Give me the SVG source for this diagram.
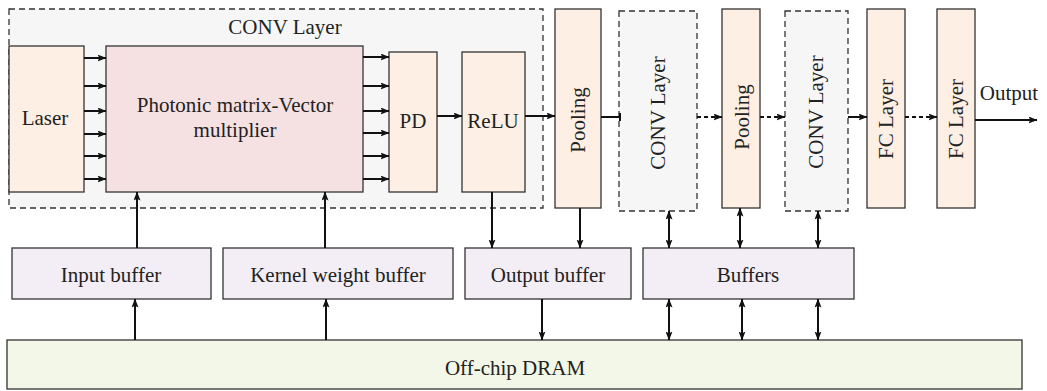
<svg xmlns="http://www.w3.org/2000/svg" width="1047" height="391" viewBox="0 0 1047 391">
<defs>
<marker id="ah" markerUnits="userSpaceOnUse" markerWidth="9" markerHeight="7" refX="8.5" refY="3.5" orient="auto-start-reverse" viewBox="0 0 9 7">
<path d="M0,0 L9,3.5 L0,7 L1.8,3.5 Z" fill="#111"/>
</marker>
</defs>
<style>
text{font-family:"Liberation Serif","Times New Roman",serif;font-size:21px;fill:#222;text-anchor:middle}
.box{stroke:#333;stroke-width:1.3}
.peach{fill:#fdefe4}
.pink{fill:#f6e1e2}
.lav{fill:#f3eef5}
.dram{fill:#f3f7e7}
.dash{fill:#f6f6f6;stroke:#333;stroke-width:1.3;stroke-dasharray:6,4}
.ar{stroke:#111;stroke-width:2;fill:none;marker-end:url(#ah)}
.dbl{stroke:#111;stroke-width:2;fill:none;marker-end:url(#ah);marker-start:url(#ah)}
.dar{stroke:#111;stroke-width:2;fill:none;stroke-dasharray:4,3;marker-end:url(#ah)}
.ln{stroke:#111;stroke-width:2;fill:none}
</style>
<g id="conv-layer-1">
<rect class="dash" x="9" y="9" width="534" height="199"/>
<text x="285" y="34">CONV Layer</text>
</g>
<g id="laser"><rect class="box peach" x="9" y="46" width="75" height="146"/><text x="45" y="125">Laser</text></g>
<g id="photonic"><rect class="box pink" x="106" y="46" width="257" height="146"/><text x="235" y="112">Photonic matrix-Vector</text><text x="235" y="137">multiplier</text></g>
<g id="pd"><rect class="box peach" x="389" y="52" width="48" height="140"/><text x="413" y="128">PD</text></g>
<g id="relu"><rect class="box peach" x="462" y="52" width="63" height="140"/><text x="493" y="128">ReLU</text></g>
<g id="pooling-1"><rect class="box peach" x="555" y="9" width="46" height="199"/><text transform="translate(585,120) rotate(-90)">Pooling</text></g>
<g id="conv-layer-2"><rect class="dash" x="619" y="11" width="78" height="200"/><text transform="translate(665,113) rotate(-90)">CONV Layer</text></g>
<g id="pooling-2"><rect class="box peach" x="722" y="9" width="38" height="199"/><text transform="translate(749,117) rotate(-90)">Pooling</text></g>
<g id="conv-layer-3"><rect class="dash" x="785" y="11" width="63" height="200"/><text transform="translate(823,112) rotate(-90)">CONV Layer</text></g>
<g id="fc-1"><rect class="box peach" x="867" y="9" width="38" height="199"/><text transform="translate(893,119) rotate(-90)">FC Layer</text></g>
<g id="fc-2"><rect class="box peach" x="937" y="9" width="38" height="199"/><text transform="translate(963,119) rotate(-90)">FC Layer</text></g>
<g id="output-label"><text x="1009" y="100">Output</text></g>
<g id="input-buffer"><rect class="box lav" x="12" y="248" width="199" height="51"/><text x="111" y="282">Input buffer</text></g>
<g id="kernel-buffer"><rect class="box lav" x="223" y="248" width="230" height="51"/><text x="338" y="282">Kernel weight buffer</text></g>
<g id="output-buffer"><rect class="box lav" x="465" y="248" width="166" height="51"/><text x="548" y="282">Output buffer</text></g>
<g id="buffers"><rect class="box lav" x="643" y="248" width="211" height="51"/><text x="748" y="282">Buffers</text></g>
<g id="dram"><rect class="box dram" x="7" y="340" width="1015" height="49"/><text x="515" y="375">Off-chip DRAM</text></g>
<g id="connectors">
<path class="ar" d="M84,58 H106"/>
<path class="ar" d="M84,86 H106"/>
<path class="ar" d="M84,111 H106"/>
<path class="ar" d="M84,134 H106"/>
<path class="ar" d="M84,156 H106"/>
<path class="ar" d="M84,179 H106"/>
<path class="ar" d="M363,57 H389"/>
<path class="ar" d="M363,86 H389"/>
<path class="ar" d="M363,111 H389"/>
<path class="ar" d="M363,133 H389"/>
<path class="ar" d="M363,156 H389"/>
<path class="ar" d="M363,179 H389"/>
<path class="ar" d="M437,116 H462"/>
<path class="ar" d="M525,116 H555"/>
<path class="ln" d="M601,117 H620 M620,113 V121"/>
<path class="dar" d="M697,117 H722"/>
<path class="dar" d="M760,117 H785"/>
<path class="ar" d="M848,117 H867"/>
<path class="dar" d="M905,117 H937"/>
<path class="ar" d="M975,120 H1037"/>
<path class="ar" d="M137,248 V192"/>
<path class="ar" d="M325,248 V192"/>
<path class="ar" d="M492,192 V248"/>
<path class="ar" d="M580,208 V248"/>
<path class="dbl" d="M669,211 V248"/>
<path class="dbl" d="M740,208 V248"/>
<path class="dbl" d="M818,211 V248"/>
<path class="ar" d="M135,340 V299"/>
<path class="ar" d="M326,340 V299"/>
<path class="ar" d="M542,299 V340"/>
<path class="dbl" d="M669,299 V340"/>
<path class="dbl" d="M742,299 V340"/>
<path class="dbl" d="M818,299 V340"/>
</g>
</svg>
